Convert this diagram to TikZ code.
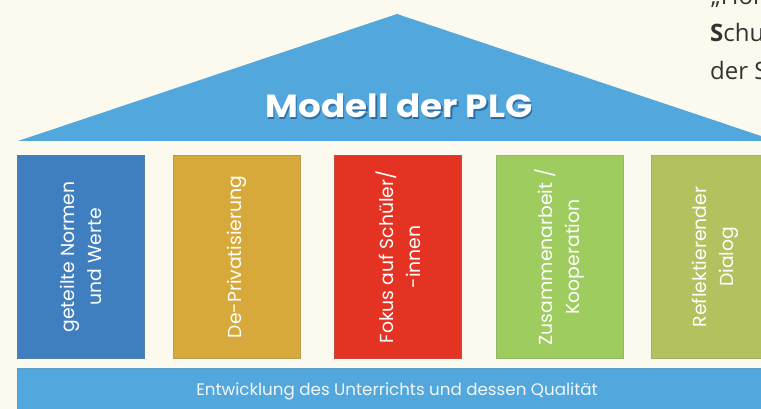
\documentclass[tikz,border=0pt]{standalone}
\usepackage{fontspec}
\setmainfont{Poppins}
\newfontfamily\docfont{Open Sans}
\definecolor{bg}{HTML}{FCF9EE}
\definecolor{roofblue}{HTML}{52A7DC}
\definecolor{shadowblue}{HTML}{2C6FA8}
\definecolor{cblue}{HTML}{3F7EBF}
\definecolor{cgold}{HTML}{D6A93A}
\definecolor{cred}{HTML}{E53323}
\definecolor{cgreen}{HTML}{9ECC5F}
\definecolor{colive}{HTML}{B5C05E}
\definecolor{docgray}{HTML}{333333}
\tikzset{
  pillar/.style={draw=#1!70!gray, line width=0.8pt, fill=#1, minimum width=127pt,
    minimum height=203pt, anchor=north west, inner sep=0pt},
  ptext/.style={rotate=90, text=white, align=center, font=\fontsize{18.8}{27}\selectfont},
  doctext/.style={anchor=base west, inner sep=0pt, text=docgray, font=\docfont\fontsize{24}{28}\selectfont},
  titletext/.style={anchor=base, inner sep=0pt, xscale=1.12, font=\bfseries\fontsize{32}{36}\selectfont}
}
\begin{document}
\begin{tikzpicture}[x=1pt,y=-1pt]
\useasboundingbox (0,0) rectangle (761,409);
\clip (0,0) rectangle (761,409);
\fill[bg] (0,0) rectangle (761,409);
% document text at top right
\node[doctext] (d1) at (711,5) {„Hor};
\node[doctext] (d2) at (710,42) {\textbf{S}chu};
\node[doctext] (d3) at (710,80) {der S};
% roof
\fill[roofblue] (18,141) -- (397,14) -- (776,141) -- cycle;
\node[titletext, text=shadowblue] (titleshadow) at (400.5,119.5) {Modell der PLG};
\node[titletext, text=white] (title) at (399,118) {Modell der PLG};
% pillars
\node[pillar=cblue] (p1) at (17,155) {};
\node[pillar=cgold] (p2) at (173,155) {};
\node[pillar=cred] (p3) at (334,155) {};
\node[pillar=cgreen] (p4) at (496,155) {};
\node[pillar=colive] (p5) at (651,155) {};
\node[ptext] (t1) at (p1.center) {geteilte Normen\\und Werte};
\node[ptext] (t2) at (p2.center) {De-Privatisierung};
\node[ptext] (t3) at (p3.center) {Fokus auf Schüler/\\-innen};
\node[ptext] (t4) at (p4.center) {Zusammenarbeit /\\Kooperation};
\node[ptext] (t5) at (p5.center) {Reflektierender\\Dialog};
% base
\node[draw=roofblue!80!gray, line width=0.8pt, fill=roofblue, anchor=north west, minimum width=770pt, minimum height=55pt, inner sep=0pt] (base) at (17,368) {};
\node[text=white!92!roofblue, font=\fontsize{16.7}{20}\selectfont, inner sep=0pt] (basetext) at (397,391) {Entwicklung des Unterrichts und dessen Qualität};
\end{tikzpicture}
\end{document}
